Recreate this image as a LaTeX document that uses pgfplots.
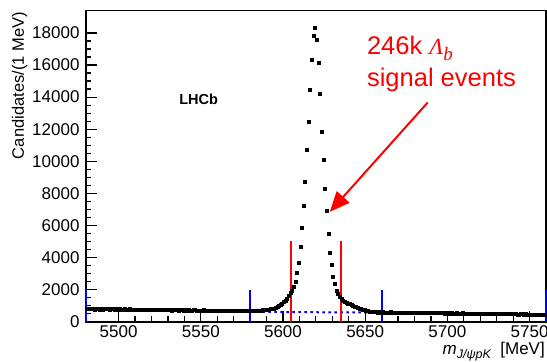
\documentclass[border=0pt]{standalone}
\usepackage{fontspec}
\setmainfont{Liberation Sans}
\newfontfamily\serifface{Liberation Serif}
\usepackage{pgfplots}
\pgfplotsset{compat=1.18}
\usetikzlibrary{arrows.meta}

\definecolor{sigred}{RGB}{255,0,0}
\definecolor{sbblue}{RGB}{0,0,255}

\begin{document}
\begin{tikzpicture}
\begin{axis}[
  width=460bp, height=311bp, scale only axis,
  xmin=5480, xmax=5760, ymin=0, ymax=19400,
  xtick={5500,5550,...,5750},
  ytick={0,2000,...,18000},
  minor x tick num=4, minor y tick num=3,
  tick pos=left, tick align=inside,
  major tick length=11bp, minor tick length=5.5bp,
  every tick/.style={black, line width=1.2bp},
  scaled ticks=false,
  /pgf/number format/1000 sep={},
  /pgf/number format/assume math mode=true,
  ticklabel style={font=\fontsize{17bp}{20bp}\selectfont},
  yticklabel style={inner sep=0pt, xshift=-6bp},
  xticklabel style={inner sep=0pt, yshift=-3.5bp},
  axis line style={line width=1.8bp},
  clip=false,
]
\coordinate (sw) at (rel axis cs:0,0);
\coordinate (ne) at (rel axis cs:1,1);

% background component of the fit
\addplot[sbblue, line width=2bp, dash pattern=on 2.5bp off 3.5bp]
  coordinates {(5540,655) (5600,600) (5660,565) (5700,550)};

% J/psi p K mass spectrum, 1 MeV bins
\addplot[only marks, mark=square*, mark size=1.5bp, black] coordinates {
(5480.5,815) (5481.5,780) (5482.5,805) (5483.5,820) (5484.5,790) (5485.5,765) (5486.5,800) (5487.5,795) (5488.5,775) (5489.5,810)
(5490.5,770) (5491.5,795) (5492.5,780) (5493.5,805) (5494.5,765) (5495.5,790) (5496.5,800) (5497.5,760) (5498.5,785) (5499.5,775)
(5500.5,790) (5501.5,755) (5502.5,775) (5503.5,780) (5504.5,760) (5505.5,770) (5506.5,795) (5507.5,750) (5508.5,770) (5509.5,765)
(5510.5,745) (5511.5,770) (5512.5,760) (5513.5,735) (5514.5,765) (5515.5,750) (5516.5,740) (5517.5,770) (5518.5,755) (5519.5,745)
(5520.5,760) (5521.5,730) (5522.5,745) (5523.5,750) (5524.5,725) (5525.5,755) (5526.5,740) (5527.5,735) (5528.5,720) (5529.5,750)
(5530.5,730) (5531.5,745) (5532.5,715) (5533.5,735) (5534.5,725) (5535.5,740) (5536.5,710) (5537.5,730) (5538.5,735) (5539.5,715)
(5540.5,725) (5541.5,705) (5542.5,730) (5543.5,715) (5544.5,700) (5545.5,720) (5546.5,725) (5547.5,695) (5548.5,715) (5549.5,710)
(5550.5,700) (5551.5,720) (5552.5,690) (5553.5,705) (5554.5,710) (5555.5,685) (5556.5,705) (5557.5,700) (5558.5,690) (5559.5,710)
(5560.5,690) (5561.5,680) (5562.5,700) (5563.5,685) (5564.5,695) (5565.5,675) (5566.5,690) (5567.5,680) (5568.5,685) (5569.5,670)
(5570.5,675) (5571.5,690) (5572.5,670) (5573.5,680) (5574.5,665) (5575.5,685) (5576.5,670) (5577.5,660) (5578.5,680) (5579.5,675)
(5580.5,680) (5581.5,670) (5582.5,690) (5583.5,685) (5584.5,700) (5585.5,695) (5586.5,710) (5587.5,720) (5588.5,725) (5589.5,740)
(5590.5,750) (5591.5,770) (5592.5,785) (5593.5,810) (5594.5,840) (5595.5,880) (5596.5,930) (5597.5,985) (5598.5,1050) (5599.5,1130)
(5600.5,1220) (5601.5,1320) (5602.5,1450) (5603.5,1600) (5604.5,1780) (5605.5,1960)
(5606.5,2160) (5607.5,2475) (5608.5,3060) (5609.5,3660) (5610.5,4660) (5611.5,5830) (5612.5,7200) (5613.5,8725) (5614.5,10750)
(5615.5,12440) (5616.5,14475) (5617.5,16330) (5618.5,17850) (5619.5,18350) (5620.5,17600) (5621.5,16125) (5622.5,14190)
(5623.5,11830) (5624.5,10080) (5625.5,8290) (5626.5,6910) (5627.5,5456) (5628.5,4330) (5629.5,3580) (5630.5,2790)
(5631.5,2375) (5632.5,1956)
(5633.5,1750) (5634.5,1580) (5635.5,1440) (5636.5,1330) (5637.5,1250) (5638.5,1190) (5639.5,1140) (5640.5,1100)
(5641.5,1040) (5642.5,990) (5643.5,945) (5644.5,905) (5645.5,860) (5646.5,820) (5647.5,785) (5648.5,750) (5649.5,720)
(5650.5,690) (5651.5,665) (5652.5,645) (5653.5,630) (5654.5,615) (5655.5,605) (5656.5,600) (5657.5,590) (5658.5,600) (5659.5,585)
(5660.5,600) (5661.5,575) (5662.5,590) (5663.5,585) (5664.5,570) (5665.5,595) (5666.5,580) (5667.5,565) (5668.5,585) (5669.5,575)
(5670.5,560) (5671.5,585) (5672.5,570) (5673.5,575) (5674.5,555) (5675.5,580) (5676.5,565) (5677.5,560) (5678.5,575) (5679.5,555)
(5680.5,565) (5681.5,550) (5682.5,570) (5683.5,545) (5684.5,560) (5685.5,555) (5686.5,540) (5687.5,565) (5688.5,550) (5689.5,545)
(5690.5,540) (5691.5,555) (5692.5,535) (5693.5,545) (5694.5,550) (5695.5,530) (5696.5,540) (5697.5,545) (5698.5,525) (5699.5,540)
(5700.5,530) (5701.5,520) (5702.5,540) (5703.5,525) (5704.5,515) (5705.5,535) (5706.5,520) (5707.5,525) (5708.5,510) (5709.5,530)
(5710.5,515) (5711.5,505) (5712.5,525) (5713.5,510) (5714.5,500) (5715.5,520) (5716.5,505) (5717.5,510) (5718.5,495) (5719.5,515)
(5720.5,500) (5721.5,490) (5722.5,510) (5723.5,495) (5724.5,505) (5725.5,485) (5726.5,500) (5727.5,495) (5728.5,480) (5729.5,500)
(5730.5,485) (5731.5,495) (5732.5,475) (5733.5,490) (5734.5,480) (5735.5,470) (5736.5,490) (5737.5,480) (5738.5,475) (5739.5,485)
(5740.5,470) (5741.5,480) (5742.5,465) (5743.5,460) (5744.5,475) (5745.5,470) (5746.5,455) (5747.5,475) (5748.5,465) (5749.5,460)
(5750.5,465) (5751.5,450) (5752.5,460) (5753.5,455) (5754.5,445) (5755.5,465) (5756.5,450) (5757.5,440) (5758.5,460) (5759.5,450)
};

% sideband windows
\addplot[sbblue, line width=2bp] coordinates {(5480,0) (5480,2000)};
\addplot[sbblue, line width=2bp] coordinates {(5580,0) (5580,2000)};
\addplot[sbblue, line width=2bp] coordinates {(5660,0) (5660,2000)};
\addplot[sbblue, line width=2bp] coordinates {(5760,0) (5760,2000)};
% signal window
\addplot[sigred, line width=2bp] coordinates {(5605,0) (5605,5000)};
\addplot[sigred, line width=2bp] coordinates {(5635,0) (5635,5000)};

% annotations
\node[anchor=base west, inner sep=0pt, font=\fontsize{14.5bp}{17bp}\selectfont\bfseries]
  at (axis cs:5536.8,13560) {LHCb};
\node[anchor=base west, inner sep=0pt, text=sigred, font=\fontsize{25.5bp}{30bp}\selectfont]
  at (axis cs:5651,16640) {246k {\serifface\itshape\fontsize{23bp}{26bp}\selectfont Λ\raisebox{-6bp}{\fontsize{19bp}{21bp}\selectfont b}}};
\node[anchor=base west, inner sep=0pt, text=sigred, font=\fontsize{25.5bp}{30bp}\selectfont]
  at (axis cs:5651,14660) {signal events};
\draw[sigred, line width=2bp, -{Triangle[length=20bp, width=17bp]}]
  (axis cs:5688,13660) -- (axis cs:5628.5,6850);

% axis titles
\node[rotate=90, anchor=north east, inner sep=0pt, font=\fontsize{16.5bp}{20bp}\selectfont]
  at ([shift={(-74bp,-1.5bp)}]rel axis cs:0,1) {Candidates/(1 MeV)};
\node[anchor=base east, inner sep=0pt, font=\fontsize{17bp}{20bp}\selectfont]
  at ([shift={(-1bp,-32.5bp)}]rel axis cs:1,0)
  {\itshape m\raisebox{-4.5bp}{\fontsize{12.5bp}{14bp}\selectfont J/ψpK}\upshape\ \ [MeV]};
\end{axis}
\pgfresetboundingbox
\path[use as bounding box] ([shift={(-85.7bp,-39.5bp)}]sw) rectangle ([shift={(1bp,10.5bp)}]ne);
\end{tikzpicture}
\end{document}
